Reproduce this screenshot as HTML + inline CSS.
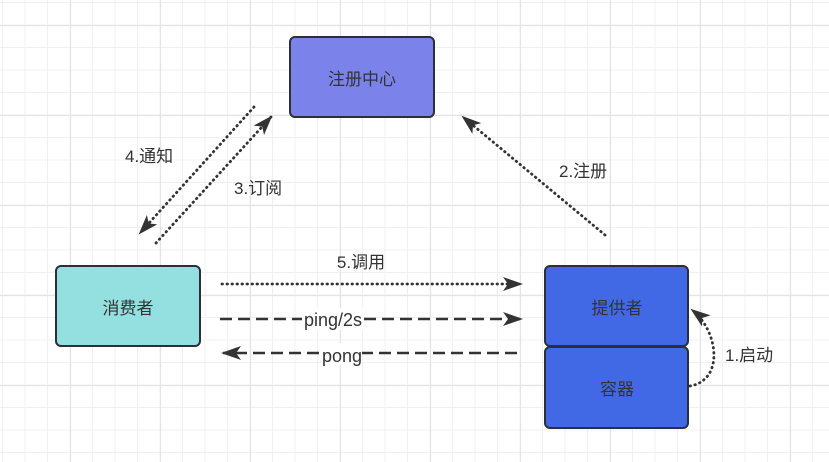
<!DOCTYPE html>
<html><head><meta charset="utf-8"><style>
html,body{margin:0;padding:0;background:#fff}
svg{display:block}
text{font-family:"Liberation Sans","Noto Sans CJK SC",sans-serif;fill:#333}
</style></head><body>
<svg width="829" height="462" viewBox="0 0 829 462" xmlns="http://www.w3.org/2000/svg">
<defs>
<pattern id="minor" x="2" y="2" width="22.5" height="22.5" patternUnits="userSpaceOnUse">
<path d="M0.5 0V22.5M0 0.5H22.5" stroke="#f0f0f0" stroke-width="1" fill="none"/>
</pattern>
<pattern id="major" x="-20" y="25" width="90" height="90" patternUnits="userSpaceOnUse">
<path d="M0.5 0V90M0 0.5H90" stroke="#e4e4e4" stroke-width="1.2" fill="none"/>
</pattern>
<marker id="ah2" viewBox="0 0 10 10" refX="9" refY="5" markerWidth="20" markerHeight="20" markerUnits="userSpaceOnUse" orient="auto">
<path d="M0 1.5L10 5L0 8.5L2.5 5Z" fill="#333"/>
</marker>
</defs>
<rect width="829" height="462" fill="url(#minor)"/>
<rect width="829" height="462" fill="url(#major)"/>

<rect x="290" y="37" width="144" height="80" rx="5" fill="#7b83eb" stroke="#2b2f3a" stroke-width="2"/>
<text x="362" y="85" font-size="17" text-anchor="middle">注册中心</text>
<rect x="56" y="266" width="144" height="80" rx="5" fill="#94dfe0" stroke="#2b2f3a" stroke-width="2"/>
<text x="128" y="314" font-size="17" text-anchor="middle">消费者</text>
<rect x="545" y="266" width="143" height="80" rx="5" fill="#4169e6" stroke="#2b2f3a" stroke-width="2"/>
<text x="617" y="314" font-size="17" text-anchor="middle">提供者</text>
<rect x="545" y="347" width="143" height="81" rx="5" fill="#4169e6" stroke="#2b2f3a" stroke-width="2"/>
<text x="617" y="395" font-size="17" text-anchor="middle">容器</text>

<g stroke="#333" stroke-width="2.8" fill="none" stroke-dasharray="0.5 4.5" stroke-linecap="round">
<path d="M254 107L140 233" marker-end="url(#ah2)"/>
<path d="M156 243L271 117" marker-end="url(#ah2)"/>
<path d="M605 235L463 117" marker-end="url(#ah2)"/>
<path d="M222 284L521 284" marker-end="url(#ah2)"/>
<path d="M690 386C725 380 718 330 692 310" marker-end="url(#ah2)"/>
</g>
<g stroke="#333" stroke-width="2.5" fill="none" stroke-dasharray="12 6">
<path d="M220 319L521 319" marker-end="url(#ah2)"/>
<path d="M517 353L223 353" marker-end="url(#ah2)"/>
</g>
<rect x="302" y="308" width="62" height="22" fill="#fff"/>
<rect x="322" y="343" width="40" height="22" fill="#fff"/>
<text x="333" y="326" font-size="18" text-anchor="middle">ping/2s</text>
<text x="342" y="362" font-size="18" text-anchor="middle">pong</text>
<text x="361" y="268" font-size="17" text-anchor="middle">5.调用</text>
<text x="125" y="162" font-size="17">4.通知</text>
<text x="234" y="194" font-size="17">3.订阅</text>
<text x="559" y="177" font-size="17">2.注册</text>
<text x="725" y="361" font-size="17">1.启动</text>
</svg>
</body></html>
